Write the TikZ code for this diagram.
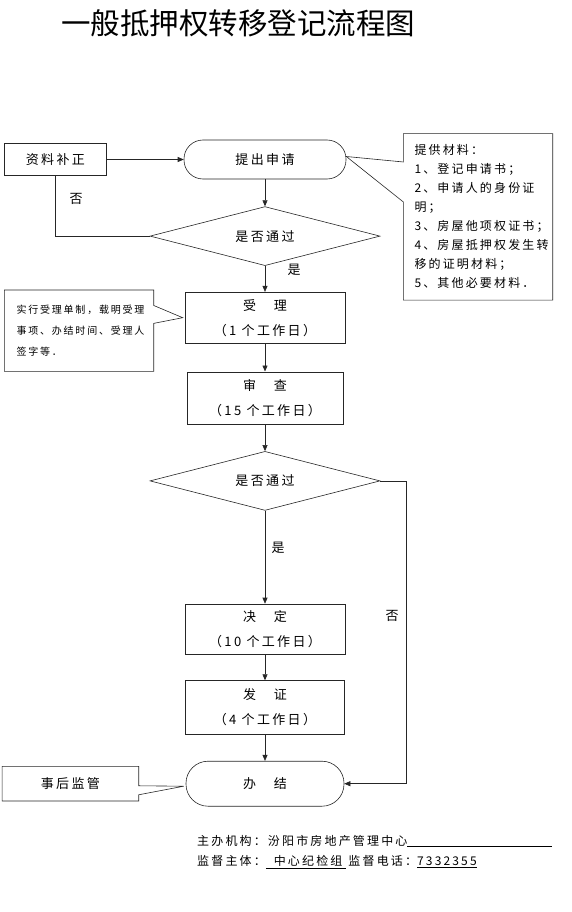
\documentclass[tikz,border=0pt]{standalone}
\usepackage{fontspec}
\setmainfont{Noto Sans CJK SC}[LetterSpace=18]
\newfontfamily\titlefont{Noto Sans CJK SC}
\usetikzlibrary{arrows.meta, positioning, shapes.geometric, calc}

\begin{document}
\begin{tikzpicture}[
  x=1pt, y=1pt,
  font=\fontsize{13pt}{25pt}\selectfont,
  node distance=27pt,
  box/.style={draw=black!85, line width=0.6pt, minimum width=160pt,
              minimum height=51pt, inner sep=0pt, align=center},
  pill/.style={box, rounded corners=19pt, minimum height=39pt},
  decide/.style={draw=black!85, line width=0.6pt, diamond, aspect=3.9, inner sep=0pt,
                 minimum width=230pt, minimum height=59pt},
  note/.style={inner xsep=11pt, inner ysep=0pt, align=left},
  outline/.style={draw=black!85, line width=0.6pt},
  flow/.style={-{Triangle[length=6pt, width=5pt]}, draw=black!85, line width=0.6pt},
  tag/.style={inner sep=0pt},
]
\useasboundingbox (0,0) rectangle (572,-912);

\node[tag, font=\titlefont\fontsize{29.5pt}{30pt}\selectfont] (title) at (238,-23)
  {一般抵押权转移登记流程图};

% main chain
\node[pill, minimum width=162pt] (appl) at (265,-159.5) {提出申请};
\node[decide, below=27pt of appl] (dec1) {是否通过};
\node[box, below=26pt of dec1] (acc) {受　理\\（1 个工作日）};
\node[box, minimum width=156pt, minimum height=52pt, below=28pt of acc] (rev)
  {审　查\\（15 个工作日）};
\node[decide, below=27pt of rev] (dec2) {是否通过};
\node[box, minimum height=50pt, below=93pt of dec2] (dcs) {决　定\\（10 个工作日）};
\node[box, minimum width=159pt, minimum height=54pt, below=26pt of dcs] (iss)
  {发　证\\（4 个工作日）};
\node[pill, minimum width=158pt, minimum height=45pt, rounded corners=22pt,
      below=26pt of iss] (done) {办　结};

% side boxes
\node[box, minimum width=102pt, minimum height=32pt, left=77pt of appl] (fix) {资料补正};
\node[note, minimum width=149pt, minimum height=166pt, text width=127pt,
      anchor=north west, font=\fontsize{12pt}{19pt}\selectfont] (mat)
  at ($(appl.north east)+(57pt,6pt)$)
  {提供材料：\\1、登记申请书；\\2、申请人的身份证\\明；\\3、房屋他项权证书；\\
   4、房屋抵押权发生转\\移的证明材料；\\5、其他必要材料．};
\node[note, inner xsep=12pt, minimum width=149pt, minimum height=81pt, text width=125pt,
      font=\fontsize{10pt}{21pt}\selectfont, left=31pt of acc, yshift=-13pt] (accnote)
  {实行受理单制，载明受理\\事项、办结时间、受理人\\签字等．};
\node[box, minimum width=136pt, minimum height=34pt, draw=none, left=47pt of done] (supv)
  {事后监管};

% callout outlines
\draw[outline] (mat.north west) -- ($(mat.north west)!0.17!(mat.south west)$)
  -- ([yshift=3pt]appl.east) -- ($(mat.north west)!0.41!(mat.south west)$)
  -- (mat.south west) -- (mat.south east) -- (mat.north east) -- cycle;
\draw[outline] (accnote.north east) -- ($(accnote.north east)!0.19!(accnote.south east)$)
  -- ([xshift=-2pt]acc.west) -- ($(accnote.north east)!0.41!(accnote.south east)$)
  -- (accnote.south east) -- (accnote.south west) -- (accnote.north west) -- cycle;
\draw[outline] (supv.north east) -- ($(supv.north east)!0.56!(supv.south east)$)
  -- ([xshift=-2pt, yshift=-2.5pt]done.west) -- ($(supv.north east)!0.82!(supv.south east)$)
  -- (supv.south east) -- (supv.south west) -- (supv.north west) -- cycle;

% connectors
\draw[flow] (fix) -- (appl);
\draw[flow] (appl) -- (dec1);
\draw[outline] (dec1.west) -| (fix.south);
\node[tag] (no1) at (76,-199) {否};
\draw[flow] (dec1) -- (acc);
\node[tag] (yes1) at (294,-270) {是};
\draw[flow] (acc) -- (rev);
\draw[flow] (rev) -- (dec2);
\draw[flow] (dec2) -- (dcs);
\node[tag] (yes2) at (278,-548) {是};
\draw[flow] (dcs) -- (iss);
\draw[flow] (iss) -- (done);
\draw[flow] (dec2.east) -- ++(26pt,0) |- (done.east);
\node[tag] (no2) at (392,-616) {否};

% footer
\node[tag, anchor=west, font=\fontsize{12pt}{14pt}\selectfont] (org) at (197,-841)
  {主办机构：汾阳市房地产管理中心\underline{\hspace{145pt}}};
\node[tag, anchor=west, font=\fontsize{12pt}{14pt}\selectfont] (tel) at (197,-862)
  {监督主体：\underline{\hspace{8pt}中心纪检组\hspace{4pt}}\hspace{2pt}监督电话：\underline{7332355}};

\end{tikzpicture}
\end{document}
